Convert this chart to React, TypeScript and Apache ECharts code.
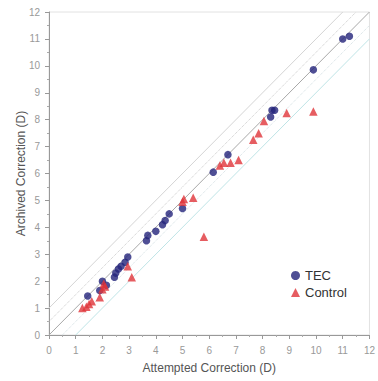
import React, { useEffect, useRef } from "react";
import * as echarts from "echarts";

const tecData: number[][] = [
  [1.45, 1.45], [1.9, 1.65], [2.0, 2.0], [2.15, 1.85], [2.45, 2.15], [2.5, 2.3],
  [2.6, 2.45], [2.7, 2.55], [2.85, 2.7], [2.95, 2.9], [3.65, 3.5], [3.7, 3.7],
  [4.0, 3.85], [4.25, 4.1], [4.35, 4.25], [4.5, 4.5], [5.0, 4.7], [6.15, 6.05],
  [6.7, 6.7], [8.3, 8.1], [8.35, 8.35], [8.45, 8.35], [9.9, 9.85], [11.0, 11.0],
  [11.25, 11.1],
];

const controlData: number[][] = [
  [1.25, 1.0], [1.4, 1.05], [1.5, 1.15], [1.6, 1.25], [1.9, 1.4], [2.0, 1.7],
  [2.05, 1.9], [2.1, 1.8], [2.95, 2.55], [3.1, 2.15], [5.0, 4.95], [5.05, 5.05],
  [5.4, 5.1], [5.8, 3.65], [6.4, 6.3], [6.55, 6.4], [6.8, 6.4], [7.1, 6.5],
  [7.65, 7.25], [7.85, 7.5], [8.05, 7.95], [8.9, 8.25], [9.9, 8.3],
];

const identityLine: number[][] = [[0, 0], [12, 12]];
const upperOne: number[][] = [[0, 1], [11, 12]];
const lowerOne: number[][] = [[1, 0], [12, 11]];
const upperHalf: number[][] = [[0, 0.5], [11.5, 12]];
const lowerHalf: number[][] = [[0.5, 0], [12, 11.5]];

const FONT = "'Liberation Sans', Arial, sans-serif";

export default function App() {
  const ref = useRef<HTMLDivElement>(null);
  useEffect(() => {
    if (!ref.current) return;
    const chart = echarts.init(ref.current, undefined, { renderer: "svg" });
    const refLine = (data: number[][], color: string, type: string, width = 1) => ({
      type: "line",
      data,
      symbol: "none",
      silent: true,
      lineStyle: { color, width, type },
      z: 1,
    });
    const axisCommon = {
      type: "value",
      min: 0,
      max: 12,
      interval: 1,
      nameLocation: "middle",
      nameMoveOverlap: false,
      nameTextStyle: { color: "#555", fontSize: 12, fontFamily: FONT },
      axisLine: { show: true, lineStyle: { color: "#999" } },
      axisTick: { show: true, length: 4, lineStyle: { color: "#999" } },
      minorTick: { show: true, splitNumber: 2, length: 2, lineStyle: { color: "#aaa" } },
      axisLabel: { color: "#999", fontSize: 10, fontFamily: FONT },
      splitLine: { show: false },
    };
    chart.setOption({
      animation: false,
      backgroundColor: "#fff",
      grid: {
        left: 49,
        right: 8,
        top: 12,
        bottom: 46,
        show: true,
        borderColor: "#e2e2e2",
        borderWidth: 1,
      },
      xAxis: {
        ...axisCommon,
        name: "Attempted Correction (D)",
        nameGap: 27,
        axisLabel: { ...axisCommon.axisLabel, margin: 10 },
      },
      yAxis: {
        ...axisCommon,
        name: "Archived Correction (D)",
        nameGap: 22,
        axisLabel: { ...axisCommon.axisLabel, margin: 9 },
      },
      legend: {
        orient: "vertical",
        left: 286,
        top: 264,
        itemWidth: 9,
        itemHeight: 9,
        itemGap: 4,
        data: ["TEC", "Control"],
        textStyle: { color: "#333", fontSize: 13, fontFamily: FONT },
      },
      series: [
        refLine(upperOne, "#d4d4d4", "solid"),
        refLine(lowerOne, "#bfe4e6", "solid"),
        refLine(upperHalf, "#c8c8c8", "dotted"),
        refLine(lowerHalf, "#d0dde0", "dotted"),
        refLine(identityLine, "#a8a8a8", "solid"),
        {
          name: "TEC",
          type: "scatter",
          data: tecData,
          symbol: "circle",
          symbolSize: 7.5,
          itemStyle: { color: "#23237a" },
          z: 3,
        },
        {
          name: "Control",
          type: "scatter",
          data: controlData,
          symbol: "triangle",
          symbolSize: 8.5,
          itemStyle: { color: "#e0343a" },
          z: 4,
        },
      ],
    });
    return () => chart.dispose();
  }, []);
  return (
    <div
      ref={ref}
      style={{ position: "fixed", left: 0, top: 0, width: 378, height: 381 }}
    />
  );
}
